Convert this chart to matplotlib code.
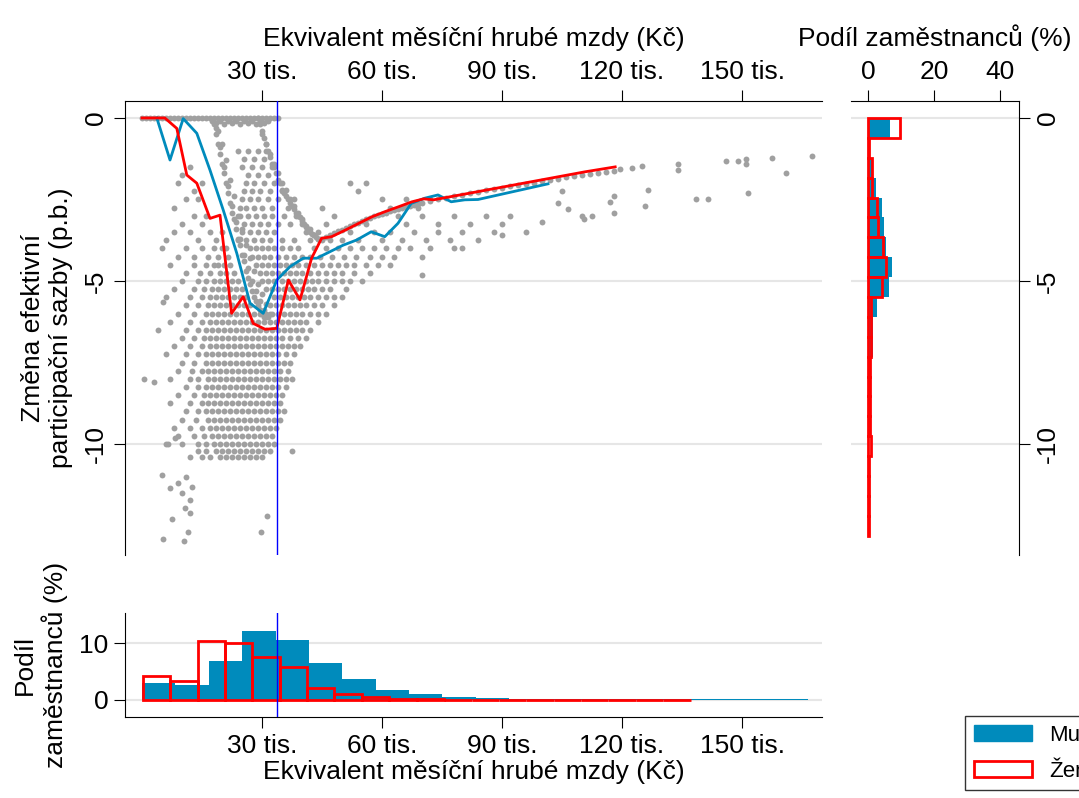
import matplotlib
matplotlib.use("Agg")
import matplotlib.pyplot as plt
import numpy as np
from matplotlib.patches import Patch

plt.rcParams['font.family'] = ['Liberation Sans', 'DejaVu Sans']
plt.rcParams['font.size'] = 19

BLUE = '#008BBC'
RED = '#FF0000'
GRAY = '#A0A0A0'
GRID = '#E6E6E6'

# ---------------- data ----------------
men_x = [3.7, 7, 10.3, 13.7, 17, 20.3, 23.7, 27, 30.3, 33.7, 37, 40.3, 43.7, 47, 50.3, 53.7,
         57.3, 60.7, 64, 67.3, 70.7, 74, 77.3, 80.7, 84, 101.5]
men_y = [0, -1.29, -0.02, -0.47, -1.6, -2.82, -4.15, -5.68, -5.99, -4.97, -4.56, -4.3, -4.3,
         -4.1, -3.9, -3.74, -3.49, -3.64, -3.23, -2.62, -2.46, -2.36, -2.57, -2.51, -2.5, -2.02]
women_x = [0, 5.7, 8.7, 11.2, 13.7, 17, 19.5, 22.4, 25.3, 27.8, 30.8, 33.7, 36.6, 39.5, 42.4,
           44.9, 47.4, 50.8, 54.2, 57.5, 60.8, 64.2, 67.5, 70.4, 72.9, 110.8, 118.3]
women_y = [0, 0, -0.32, -1.75, -2.0, -3.08, -2.98, -5.99, -5.48, -6.3, -6.48, -6.45, -4.97,
           -5.58, -4.3, -3.69, -3.64, -3.44, -3.23, -3.03, -2.87, -2.72, -2.57, -2.48, -2.51,
           -1.65, -1.5]
median_wage = 33.7

# curved bands of observations (x thousands Kč, y p.b.)
band_x = [
    0, 1, 2, 3, 4, 5, 6, 7, 8, 9, 10, 11, 12, 13, 14, 15, 16, 17, 18, 19, 20, 21, 22, 23, 24,
    25, 26, 27, 28, 29, 30, 31, 32, 33, 34, 17.5, 18.5, 19.5, 20.5, 21.5, 22.5, 23.5, 24.5, 25.5,
    26.5, 27.5, 28.5, 29.5, 30.5, 31.5,
    18, 18.5, 19, 19.5, 20, 20.5, 21, 21.5, 22, 22.5, 23, 23.5, 24, 24.5, 25, 25.5, 26, 26.5,
    27, 27.5, 28, 28.5, 29, 29.5, 30, 30.5, 31, 18.5, 19.5, 20.5, 21.5, 22.5, 23.5, 24.5, 25.5,
    26.5, 27.5, 28.5, 29.5, 30.5, 31.5, 19, 20, 21, 22, 23, 24, 25, 26, 27, 28, 29, 30, 31, 32,
    29, 29.5, 30, 30.5, 31, 31.5, 32, 32.5, 33, 33.5, 34, 34.5, 35, 35.5, 36, 36.5, 37, 37.5,
    38, 38.5, 39, 39.5, 40, 40.5, 41, 41.5, 42, 42.5, 43, 43.5, 44, 44.5, 45, 30, 31, 32, 33, 34,
    35, 36, 37, 38, 39, 40, 41, 42, 43, 44,
    45, 46, 47, 48, 49, 50, 51, 52, 53, 54, 55, 56, 57, 58, 59, 60, 61, 62, 63, 64, 65, 66, 67,
    68, 69, 70, 72, 74, 76, 78, 80, 82, 84, 86, 88, 90, 92, 94, 96, 98, 100, 102, 104, 106, 108,
    110, 112, 114, 116, 118, 119.5, 122.5, 125, 134, 134, 146, 149, 151, 151, 157.5, 167.5, 161,
    151.4, 138.5, 141.4, 126.5, 125.7, 118, 118, 117, 110.5, 112.5, 106.4, 105,
]
band_y = [
    0, 0, 0, 0, 0, 0, 0, 0, 0, 0, 0, 0, 0, 0, 0, 0, 0, 0, 0, 0, 0, 0, 0, 0, 0,
    0, 0, 0, 0, 0, 0, 0, 0, 0, 0, -0.1, -0.15, -0.1, -0.2, -0.1, -0.15, -0.1, -0.2, -0.1, -0.15,
    -0.1, -0.2, -0.1, -0.15, -0.1,
    -0.2, -0.5, -0.8, -1.1, -1.4, -1.7, -2.0, -2.3, -2.6, -2.9, -3.1, -3.4, -3.7, -3.9, -4.2,
    -4.4, -4.7, -4.9, -5.1, -5.3, -5.5, -5.6, -5.8, -5.9, -6.0, -6.1, -6.1, -0.3, -0.9, -1.5,
    -2.1, -2.7, -3.2, -3.7, -4.2, -4.6, -5.0, -5.3, -5.6, -5.9, -6.1, -0.4, -0.8, -1.3, -1.9,
    -2.4, -3.0, -3.4, -3.9, -4.3, -4.7, -5.1, -5.4, -5.7, -6.0,
    0, -0.2, -0.4, -0.6, -0.8, -1.0, -1.2, -1.4, -1.5, -1.7, -1.9, -2.0, -2.2, -2.3, -2.4,
    -2.5, -2.6, -2.7, -2.8, -2.9, -3.0, -3.05, -3.15, -3.25, -3.35, -3.4, -3.5, -3.55, -3.6,
    -3.65, -3.7, -3.72, -3.75, -0.5, -0.8, -1.1, -1.4, -1.7, -2.0, -2.2, -2.5, -2.7, -2.9, -3.1,
    -3.3, -3.4, -3.6, -3.7,
    -3.72, -3.65, -3.6, -3.54, -3.48, -3.42, -3.37, -3.31, -3.26, -3.21, -3.16, -3.11, -3.06,
    -3.02, -2.98, -2.94, -2.9, -2.86, -2.82, -2.78, -2.75, -2.72, -2.69, -2.66, -2.63, -2.6,
    -2.55, -2.5, -2.45, -2.4, -2.35, -2.3, -2.26, -2.22, -2.18, -2.14, -2.1, -2.06, -2.02, -1.98,
    -1.94, -1.9, -1.86, -1.82, -1.78, -1.75, -1.72, -1.69, -1.66, -1.62, -1.58, -1.52, -1.48,
    -1.42, -1.6, -1.32, -1.32, -1.26, -1.4, -1.22, -1.16, -1.7, -2.3, -2.47, -2.48, -2.2, -2.7,
    -2.9, -2.4, -2.57, -3.1, -3.0, -2.8, -2.25,
]

# dense clouds, one list of wage values per level of the change
cloud_levels = [-1.0, -1.5, -2.0, -2.5, -3.0, -3.5, -4.0, -4.5, -5.0, -5.5, -6.0, -6.5, -7.0,
                -7.5, -8.0, -8.5, -9.0, -9.5, -10.0, -10.4]
cloud_x = [
    [24, 26.5, 29, 31],
    [12, 25, 27.5, 30, 32.5],
    [9, 15, 26, 28, 30.5, 33, 52, 56],
    [11, 14, 25, 27, 29, 31.5, 34, 38, 60, 66, 72],
    [13, 16, 24.5, 26.5, 28.5, 30.5, 32.5, 35.5, 38.5, 48, 64, 70, 78, 86, 92],
    [8, 12, 17, 20, 25, 27, 29, 31, 33, 41, 44, 52, 58, 62, 68, 74, 80, 88, 96],
    [5, 11, 15, 18, 20, 21, 27, 28.5, 30, 31.5, 33, 35, 37, 39, 43, 46, 49, 52, 55, 58, 61, 64, 67, 72, 78],
    [7, 13, 16, 18, 19, 20.5, 22, 28.5, 30, 31.5, 33, 34.5, 36, 37.5, 39, 41, 43, 45, 47, 49, 51, 53, 56, 59, 62],
    [10, 14, 16, 18, 19.5, 21, 22.5, 24, 30, 31.5, 33, 35, 36.5, 38, 39.5, 41, 42.5, 44, 46, 48, 50, 52, 55],
    [6, 12, 15, 17, 18.5, 20, 21.5, 23, 24.5, 26, 33, 34.5, 36, 37.5, 39, 40.5, 42, 44, 46, 48, 50],
    [9, 13, 16, 17.5, 19, 20.5, 22, 23.5, 25, 26.5, 28, 29.5, 31, 32.5, 34, 35.5, 37, 38.5, 40, 42, 44, 46],
    [4, 11, 14, 16, 17.5, 19, 20.5, 22, 23.5, 25, 26.5, 28, 29.5, 31, 32.5, 34, 35.5, 37, 38.5, 40, 42],
    [8, 12, 15, 17, 18.5, 20, 21.5, 23, 24.5, 26, 27.5, 29, 30.5, 32, 33.5, 35, 36.5, 38, 39.5],
    [10, 13, 16, 17.5, 19, 20.5, 22, 23.5, 25, 26.5, 28, 29.5, 31, 32.5, 34, 35.5, 37],
    [0.5, 7, 12, 14, 16.5, 18, 19.5, 21, 22.5, 24, 25.5, 27, 28.5, 30, 31.5, 33, 34.5, 36, 37.5],
    [9, 13, 15.5, 17, 18.5, 20, 21.5, 23, 24.5, 26, 27.5, 29, 30.5, 32, 33.5, 35],
    [11, 14, 16, 17.5, 19, 20.5, 22, 23.5, 25, 26.5, 28, 29.5, 31, 32.5, 34, 35.5],
    [8, 12, 15, 17, 18.5, 20, 21.5, 23, 24.5, 26, 27.5, 29, 30.5, 32, 33.5],
    [6, 10, 14, 16, 18, 19.5, 21, 22.5, 24, 25.5, 27, 28.5, 30, 31.5, 33],
    [12, 15, 17, 19.5, 21, 22.5, 24, 25.5, 27, 28.5, 30],
]
# intermediate levels, shifted between the rows above
cloud2_levels = [-1.25, -1.75, -2.25, -2.75, -3.25, -3.75, -4.25, -4.75, -5.25, -5.75, -6.25,
                 -6.75, -7.25, -7.75, -8.25, -8.75, -9.25, -9.75, -10.2]
cloud2_x = [
    [25.5, 28, 30.5],
    [10, 26.5, 29, 31.5],
    [13, 25.5, 27.5, 29.5, 32, 35, 54],
    [8, 24.5, 26, 28, 30, 32.5, 36.5, 45, 62, 69],
    [10, 15, 25.5, 27.5, 29.5, 31.5, 34, 37, 40, 46, 56, 66, 74, 82, 90],
    [6, 14, 18.5, 24, 26, 28, 30, 32, 35, 38, 42, 47, 50, 54, 60, 65, 71, 77, 84],
    [9, 13, 16.5, 19, 21.5, 27.5, 29, 30.5, 32, 34, 36, 38, 40, 42, 44.5, 47.5, 50.5, 53.5, 57, 60, 63, 70],
    [11, 14.5, 17, 19.5, 21, 23, 29.5, 31, 32.5, 34, 35.5, 37, 38.5, 40, 42, 44, 46, 48, 50, 53, 57],
    [8, 13, 15.5, 17.5, 19, 20.5, 22, 23.5, 25, 31, 32.5, 34, 35.5, 37, 38.5, 40, 41.5, 43, 45, 47, 51],
    [11, 14, 16.5, 18, 19.5, 21, 22.5, 24, 25.5, 27, 29, 32, 33.5, 35, 36.5, 38, 39.5, 41, 43, 45, 48],
    [7, 12, 15, 17, 18.5, 20, 21.5, 23, 24.5, 26, 27.5, 29, 30.5, 32, 33.5, 35, 36.5, 38, 39.5, 41, 44],
    [10, 13, 15.5, 17, 18.5, 20, 21.5, 23, 24.5, 26, 27.5, 29, 30.5, 32, 33.5, 35, 37, 39, 41],
    [6, 11, 14, 16, 17.5, 19, 20.5, 22, 23.5, 25, 26.5, 28, 29.5, 31, 32.5, 34, 36, 38],
    [9, 12.5, 15, 16.5, 18, 19.5, 21, 22.5, 24, 25.5, 27, 28.5, 30, 31.5, 33, 34.5, 36.5],
    [11, 14, 16, 17.5, 19, 20.5, 22, 23.5, 25, 26.5, 28, 29.5, 31, 32.5, 34, 36],
    [7, 12, 15, 16.5, 18, 19.5, 21, 22.5, 24, 25.5, 27, 28.5, 30, 31.5, 33, 34.5],
    [10, 13.5, 16.5, 18, 19.5, 21, 22.5, 24, 25.5, 27, 28.5, 30, 31.5, 33, 34.5],
    [9, 13, 15.5, 17.5, 19, 20.5, 22, 23.5, 25, 26.5, 28, 29.5, 31, 32.5],
    [14, 16, 18.5, 20, 21.5, 23, 24.5, 26, 27.5, 29, 30.5, 32],
]

# isolated observations
loose_x = [5.3, 3, 4.9, 7, 9, 12.4, 10.8, 12, 5.3, 10.5, 7.4, 11.5, 6.4, 8.25, 11, 10, 12,
           29.75, 31.2, 37.5, 100, 110, 90, 80, 70, 104]
loose_y = [-5.65, -8.1, -10.95, -11.35, -11.2, -11.3, -11.95, -12.1, -12.9, -12.97, -12.3,
           -12.7, -10.0, -9.8, -11.0, -11.5, -11.7, -12.7, -12.2, -10.2, -3.2, -3.0, -3.6,
           -4.0, -4.8, -2.6]

# bottom histogram: share of employees by wage (%)
men_wage_edges = [0, 8.3, 16.7, 25, 33.4, 41.7, 50, 58.4, 66.8, 75.1, 83.4, 91.7, 100, 108.4,
                  116.8, 125.1, 133.4, 141.7, 150, 158.4, 166.5]
men_wage_share = [3.0, 2.6, 6.8, 12.1, 10.5, 6.5, 3.7, 1.75, 1.05, 0.5, 0.4, 0.25, 0.15, 0.15,
                  0.15, 0.15, 0.15, 0.15, 0.15, 0.15]
women_wage_edges = [0.3, 7.1, 13.9, 20.7, 27.6, 34.4, 41.3, 48.1, 55.0, 61.8, 68.7, 75.5, 82.4,
                    89.2, 96.1, 102.9, 109.8, 116.6, 123.5, 130.3, 137.2]
women_wage_share = [4.2, 3.4, 10.35, 10.1, 7.5, 5.85, 2.1, 1.05, 0.5, 0.15, 0.1, 0.05, 0.05,
                    0.05, 0.0, 0.05, 0.05, 0.05, 0.05, 0.05]

# right histogram: share of employees by change (%)
chg_edges = [0, -0.61, -1.22, -1.83, -2.44, -3.05, -3.66, -4.27, -4.88, -5.49, -6.1, -6.71,
             -7.32, -7.93, -8.54, -9.15, -9.76, -10.37, -10.98, -11.59, -12.2, -12.81]
men_chg_share = [6.7, 0.3, 1.4, 2.3, 4.4, 4.9, 5.5, 7.2, 6.4, 2.6, 1.4, 1.4, 0.3, 0.3, 0.3, 0.3,
                 0.3, 0.2, 0.2, 0.1, 0.1]
women_chg_share = [9.7, 0.3, 1.3, 1.3, 2.8, 3.0, 4.6, 5.4, 4.1, 0.8, 0.8, 0.8, 0.6, 0.6, 0.6,
                   0.6, 0.8, 0.3, 0.3, 0.3, 0.3]

wage_ticks = [30, 60, 90, 120, 150]
wage_labels = ['30 tis.', '60 tis.', '90 tis.', '120 tis.', '150 tis.']

# ---------------- figure ----------------
W, H = 1079, 798
fig = plt.figure(figsize=(W / 100, H / 100), dpi=100)

def rect(l, t, r, b):
    return [l / W, 1 - b / H, (r - l) / W, (b - t) / H]

ax = fig.add_axes(rect(125, 101, 822, 555))
axr = fig.add_axes(rect(851, 101, 1019, 555))
axb = fig.add_axes(rect(125, 613, 822, 717))

XL = (-4.25, 170)
YL = (-13.4, 0.52)

ax.set_xlim(*XL)
ax.set_ylim(*YL)
for y in [0, -5, -10]:
    ax.axhline(y, color=GRID, lw=1.5, zorder=0)
cx, cy = [], []
for levs, rows in ((cloud_levels, cloud_x), (cloud2_levels, cloud2_x)):
    for lev, xs in zip(levs, rows):
        cx += xs
        cy += [lev] * len(xs)
kw = dict(s=18, color=GRAY, lw=0, zorder=2)
ax.scatter(band_x, band_y, **kw)
ax.scatter(cx, cy, **kw)
ax.scatter(loose_x, loose_y, **kw)
ax.plot(men_x, men_y, color=BLUE, lw=2, zorder=3)
ax.plot(women_x, women_y, color=RED, lw=2, zorder=3)
ax.axvline(median_wage, color='blue', lw=1, zorder=4)
for s in ['right', 'bottom']:
    ax.spines[s].set_visible(False)
ax.xaxis.tick_top()
ax.xaxis.set_label_position('top')
ax.set_xticks(wage_ticks)
ax.set_xticklabels(wage_labels)
ax.set_yticks([0, -5, -10])
ax.set_yticklabels(['0', '-5', '-10'], rotation=90, va='center')
ax.tick_params(length=8, pad=4)
ax.set_xlabel('Ekvivalent měsíční hrubé mzdy (Kč)', labelpad=10)
ax.set_ylabel('Změna efektivní\nparticipační sazby (p.b.)', labelpad=8)

axr.set_ylim(*YL)
axr.set_xlim(-5.15, 45.8)
for y in [0, -5, -10]:
    axr.axhline(y, color=GRID, lw=1.5, zorder=0)
tops = chg_edges[:-1]
hts = [chg_edges[i + 1] - chg_edges[i] for i in range(len(chg_edges) - 1)]
axr.barh(tops, men_chg_share, height=hts, align='edge', color=BLUE, lw=0, zorder=2)
axr.barh(tops, women_chg_share, height=hts, align='edge', facecolor='none',
         edgecolor=RED, lw=2, zorder=3)
for s in ['left', 'bottom']:
    axr.spines[s].set_visible(False)
axr.xaxis.tick_top()
axr.xaxis.set_label_position('top')
axr.set_xticks([0, 20, 40])
axr.yaxis.tick_right()
axr.set_yticks([0, -5, -10])
axr.set_yticklabels(['0', '-5', '-10'], rotation=90, va='center')
axr.tick_params(length=8, pad=4)
axr.set_xlabel('Podíl zaměstnanců (%)', labelpad=10)

axb.set_xlim(*XL)
axb.set_ylim(-3.0, 15.3)
for y in [0, 10]:
    axb.axhline(y, color=GRID, lw=1.5, zorder=0)
axb.axvline(median_wage, color='blue', lw=1, zorder=4)
axb.bar(men_wage_edges[:-1], men_wage_share,
        width=np.diff(men_wage_edges), align='edge', color=BLUE, lw=0, zorder=2)
axb.bar(women_wage_edges[:-1], women_wage_share,
        width=np.diff(women_wage_edges), align='edge', facecolor='none',
        edgecolor=RED, lw=2, zorder=3)
for s in ['right', 'top']:
    axb.spines[s].set_visible(False)
axb.set_xticks(wage_ticks)
axb.set_xticklabels(wage_labels)
axb.set_yticks([0, 10])
axb.tick_params(length=8, pad=4)
axb.set_xlabel('Ekvivalent měsíční hrubé mzdy (Kč)', labelpad=2)
axb.set_ylabel('Podíl\nzaměstnanců (%)', labelpad=8)

handles = [Patch(facecolor=BLUE, edgecolor=BLUE, label='Muži'),
           Patch(facecolor='none', edgecolor=RED, lw=2, label='Ženy')]
fig.legend(handles=handles, loc='upper left', bbox_to_anchor=(965 / W, 1 - 716 / H),
           frameon=True, fancybox=False, edgecolor='black', fontsize=16,
           handlelength=2.6, borderaxespad=0)

fig.savefig('out.png', dpi=100)
